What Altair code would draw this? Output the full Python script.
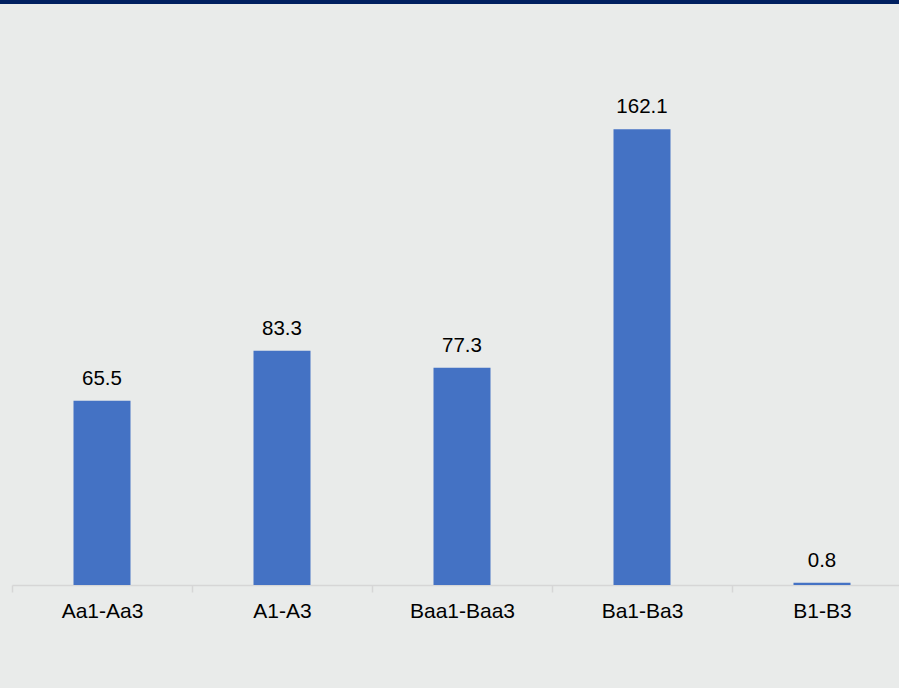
import altair as alt
import pandas as pd
import jinja2

categories = ["Aa1-Aa3", "A1-A3", "Baa1-Baa3", "Ba1-Ba3", "B1-B3"]
values = [65.5, 83.3, 77.3, 162.1, 0.8]

df = pd.DataFrame({"cat": categories, "v": values})

BG = "#E9EBEA"
FONT = "Liberation Sans"

x = alt.X(
    "cat:N",
    sort=categories,
    scale=alt.Scale(paddingInner=0, paddingOuter=0),
    axis=alt.Axis(
        title=None,
        labelAngle=0,
        tickBand="extent",
        ticks=True,
        tickSize=7,
        tickColor="#D6D6D6",
        tickWidth=1.5,
        domainColor="#D6D6D6",
        domainWidth=1.5,
        labelFontSize=21,
        labelFont=FONT,
        labelColor="#000000",
        labelPadding=8.5,
        grid=False,
    ),
)
y = alt.Y("v:Q", scale=alt.Scale(domain=[0, 180]), axis=None)

bars = alt.Chart(df).mark_bar(size=57, color="#4472C4").encode(x=x, y=y)
labels = alt.Chart(df).mark_text(
    dy=-16, baseline="alphabetic", fontSize=20.5, font=FONT, color="#000000"
).encode(x=x, y=y, text=alt.Text("v:Q", format=".1f"))

topbar = alt.Chart(pd.DataFrame({"a": [0]})).mark_rect(color="#002060").encode(
    x=alt.value(-12), x2=alt.value(900), y=alt.value(-79), y2=alt.value(-75)
)

chart = (
    alt.layer(bars, labels, topbar)
    .properties(
        width=900,
        height=506,
        background=BG,
        padding={"left": 12, "top": 79, "right": 0, "bottom": 103},
        autosize=alt.AutoSizeParams(type="none"),
    )
    .configure_view(strokeWidth=0)
)

TEMPLATE = jinja2.Template("""<!DOCTYPE html>
<html>
<head>
  <style>
    html, body { margin: 0; padding: 0; overflow: hidden; background: #E9EBEA; }
    #{{ output_div }}.vega-embed { display: block; }
    .vega-embed svg, .vega-embed canvas { max-width: none !important; }
  </style>
  <script type="text/javascript" src="{{ base_url }}/vega@{{ vega_version }}"></script>
  <script type="text/javascript" src="{{ base_url }}/vega-lite@{{ vegalite_version }}"></script>
  <script type="text/javascript" src="{{ base_url }}/vega-embed@{{ vegaembed_version }}"></script>
</head>
<body>
  <div id="{{ output_div }}"></div>
  <script>
    (function(vegaEmbed) {
      var spec = {{ spec }};
      var embedOpt = {{ embed_options }};
      vegaEmbed("#{{ output_div }}", spec, embedOpt)
        .catch(function(error) {
          document.getElementById('{{ output_div }}').innerHTML =
            '<div style="color:red;">JavaScript Error: ' + error.message + '</div>';
        });
    })(vegaEmbed);
  </script>
</body>
</html>
""")

try:
    chart.save("out.html", embed_options={"renderer": "svg", "actions": False}, template=TEMPLATE)
except TypeError:
    chart.save("out.html", embed_options={"renderer": "svg", "actions": False})
